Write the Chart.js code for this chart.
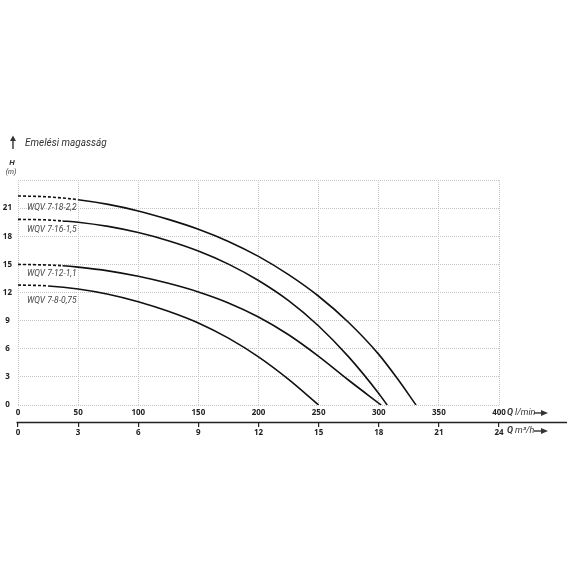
<!DOCTYPE html>
<html>
<head>
<meta charset="utf-8">
<script src="https://cdn.jsdelivr.net/npm/chart.js@4"></script>
<style>
  html, body { margin: 0; padding: 0; background: #fff; }
  #wrap { width: 570px; height: 570px; }
</style>
</head>
<body>
<div id="wrap"><canvas id="pumpChart" width="570" height="570"></canvas></div>
<script>
// flow (l/min) and head (m)
const q18 = [0, 25, 50, 75, 100, 125, 150, 175, 200, 225, 250, 275, 300, 315, 331];
const h18 = [22.3, 22.2, 21.9, 21.4, 20.7, 19.8, 18.75, 17.45, 15.85, 13.9, 11.6, 8.8, 5.4, 2.9, 0];
const q16 = [0, 25, 37, 50, 75, 100, 125, 150, 175, 200, 225, 250, 275, 300, 307];
const h16 = [19.8, 19.74, 19.63, 19.5, 19.05, 18.4, 17.53, 16.43, 15.03, 13.28, 11.13, 8.43, 5.13, 1.23, 0];
const q12 = [0, 25, 37, 50, 75, 100, 125, 150, 175, 200, 225, 250, 275, 302];
const h12 = [15.0, 14.93, 14.86, 14.71, 14.31, 13.73, 12.98, 12.06, 10.89, 9.39, 7.49, 5.19, 2.64, 0];
const q8 = [0, 25, 50, 75, 100, 125, 150, 175, 200, 225, 250];
const h8 = [12.8, 12.7, 12.38, 11.82, 11.02, 10.0, 8.75, 7.13, 5.13, 2.73, 0];

const pumpNames = ['WQV 7-18-2,2', 'WQV 7-16-1,5', 'WQV 7-12-1,1', 'WQV 7-8-0,75'];
const dashUntil = [50, 37, 37, 25]; // dashed (extrapolated) part of each curve

const flowTicks = [0, 50, 100, 150, 200, 250, 300, 350, 400];
const m3Ticks = [0, 3, 6, 9, 12, 15, 18, 21, 24];
const headTicks = [0, 3, 6, 9, 12, 15, 18, 21, 24];

const curves = [[q18, h18], [q16, h16], [q12, h12], [q8, h8]];

const datasets = curves.map(([q, h], i) => ({
    label: pumpNames[i],
    data: q.map((x, k) => ({ x: x, y: h[k] })),
    borderColor: '#111',
    borderWidth: 1.6,
    pointRadius: 0,
    fill: false,
    cubicInterpolationMode: 'monotone',
    segment: {
        borderDash: ctx => (ctx.p1.parsed.x <= dashUntil[i] ? [3, 2] : undefined),
    },
}));

const GRID = '#c4c4c4';
const tickFont = { family: 'Noto Sans', size: 8, weight: 'bold' };

// extra text and arrows around the plot
const decorations = {
    id: 'decorations',
    afterDraw(chart) {
        const c = chart.ctx;
        const x = chart.scales.x, x2 = chart.scales.x2, y = chart.scales.y;
        c.save();
        c.fillStyle = '#333';
        c.strokeStyle = '#222';

        // second axis line, running past the plot
        c.lineWidth = 1.5;
        c.beginPath();
        c.moveTo(x2.left - 1.5, x2.top + 0.5);
        c.lineTo(567, x2.top + 0.5);
        c.stroke();

        // title with up arrow
        c.lineWidth = 1.3;
        c.beginPath();
        c.moveTo(13, 149); c.lineTo(13, 140);
        c.stroke();
        c.beginPath();
        c.moveTo(10, 141); c.lineTo(13, 135.5); c.lineTo(16, 141); c.closePath();
        c.fill();
        c.font = 'italic 10px Roboto';
        c.textBaseline = 'middle';
        c.textAlign = 'left';
        c.fillText('Emelési magasság', 25, 143);

        c.textAlign = 'center';
        c.font = 'italic bold 8px Roboto';
        c.fillText('H', 12, 163);
        c.font = 'italic 7px Roboto';
        c.fillText('(m)', 11, 172);

        // unit labels with arrows
        const units = [[x, 'l/min'], [x2, 'm³/h']];
        units.forEach(([s, unit], i) => {
            const ty = i === 0 ? chart.chartArea.bottom + 8 : x2.top + 9;
            c.textAlign = 'left';
            c.font = 'italic bold 9px Roboto';
            c.fillText('Q', s.right + 8, ty);
            const qw = c.measureText('Q').width;
            c.font = 'italic 9px Roboto';
            c.fillText(unit, s.right + 10 + qw, ty);
            c.lineWidth = 1.3;
            c.beginPath();
            c.moveTo(s.right + 35, ty); c.lineTo(s.right + 45, ty);
            c.stroke();
            c.beginPath();
            c.moveTo(s.right + 42, ty - 3); c.lineTo(s.right + 49, ty); c.lineTo(s.right + 42, ty + 3); c.closePath();
            c.fill();
        });

        // pump names under the dashed starts
        const offsets = [12, 10, 9, 16];
        c.font = 'italic 8.5px Roboto';
        c.fillStyle = '#444';
        c.textAlign = 'left';
        curves.forEach(([q, h], i) => {
            const py = y.getPixelForValue(h[0]) + offsets[i];
            c.fillText(pumpNames[i], x.getPixelForValue(q[0]) + 9, py);
        });
        c.restore();
    },
};

new Chart(document.getElementById('pumpChart'), {
    type: 'line',
    data: { datasets: datasets },
    options: {
        responsive: false,
        animation: false,
        layout: { padding: { top: 180, left: 2, right: 71, bottom: 128 } },
        plugins: { legend: { display: false }, tooltip: { enabled: false } },
        scales: {
            x: {
                type: 'linear',
                position: 'bottom',
                min: 0,
                max: 400,
                afterBuildTicks: s => { s.ticks = flowTicks.map(v => ({ value: v })); },
                ticks: { font: tickFont, color: '#222', padding: 3, maxRotation: 0 },
                grid: { color: GRID, lineWidth: 1, drawTicks: false, borderDash: [1, 1] },
                border: { display: false, dash: [1, 1] },
                afterFit: s => { s.height = 17; },
            },
            x2: {
                type: 'linear',
                position: 'bottom',
                min: 0,
                max: 24,
                afterBuildTicks: s => { s.ticks = m3Ticks.map(v => ({ value: v })); },
                ticks: { font: tickFont, color: '#222', padding: 1, maxRotation: 0 },
                grid: { drawOnChartArea: false, drawTicks: true, tickLength: 5, color: '#222', lineWidth: 1.2 },
                border: { display: false },
                afterFit: s => { s.height = 20; },
            },
            y: {
                type: 'linear',
                min: 0,
                max: 24,
                afterBuildTicks: s => { s.ticks = headTicks.map(v => ({ value: v })); },
                ticks: {
                    font: tickFont,
                    color: '#222',
                    padding: 6,
                    crossAlign: 'center',
                    callback: v => (v === 24 ? '' : v),
                },
                grid: { color: GRID, lineWidth: 1, drawTicks: false, borderDash: [1, 1] },
                border: { display: false, dash: [1, 1] },
                afterFit: s => { s.width = 16; },
            },
        },
    },
    plugins: [decorations],
});
</script>
</body>
</html>
